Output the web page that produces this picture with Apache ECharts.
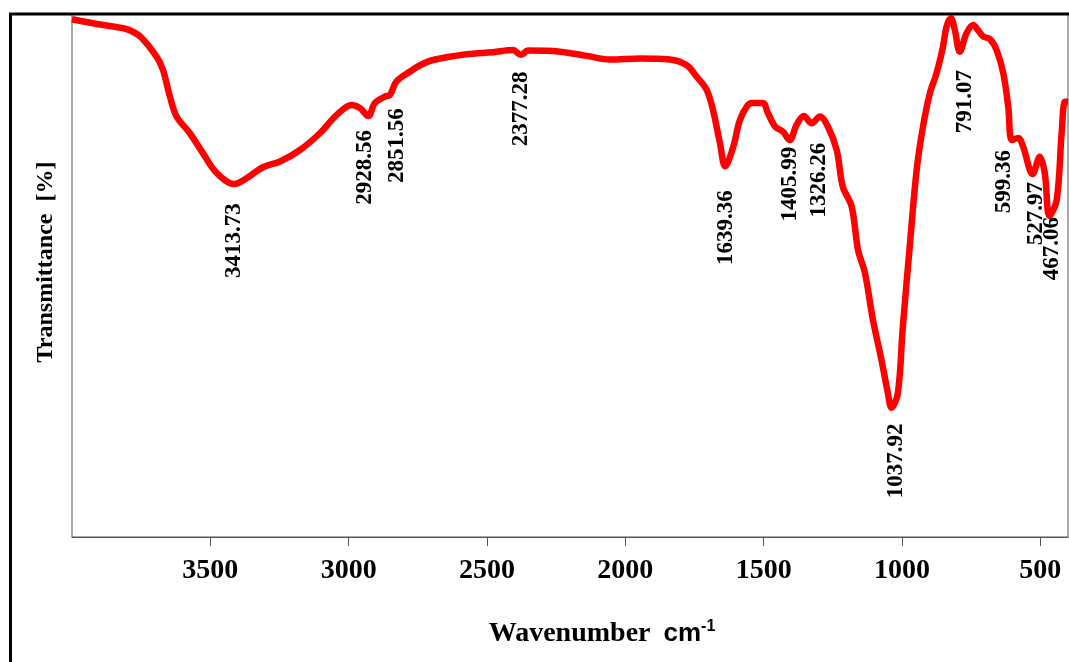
<!DOCTYPE html>
<html>
<head>
<meta charset="utf-8">
<script src="https://cdn.jsdelivr.net/npm/echarts@6/dist/echarts.min.js"></script>
<style>
html,body{margin:0;padding:0;background:#fff;}
#chart{width:1069px;height:662px;}
</style>
</head>
<body>
<div id="chart"></div>
<script>
// Spectrum trace: wavenumber (cm-1) and transmittance (%)
const wavenumbers = [4000, 3911, 3852, 3802, 3754, 3694, 3671, 3646, 3622, 3574, 3527, 3477, 3414, 3369, 3310, 3248, 3176, 3104, 3043, 2989, 2959, 2929, 2905, 2869, 2851, 2827, 2778, 2742, 2695, 2574, 2479, 2406, 2377, 2352, 2236, 2140, 2056, 1947, 1839, 1778, 1742, 1706, 1683, 1658, 1639, 1611, 1586, 1557, 1539, 1503, 1485, 1459, 1430, 1406, 1381, 1355, 1326, 1297, 1268, 1236, 1214, 1182, 1159, 1134, 1105, 1074, 1051, 1038, 1015, 997, 971, 947, 924, 899, 875, 852, 839, 823, 809, 791, 767, 743, 725, 707, 682, 658, 634, 616, 603, 580, 562, 528, 502, 484, 467, 441, 423, 411, 400];
const transmittance = [99.0, 98.1, 97.6, 97.1, 95.7, 91.8, 89.3, 84.2, 80.4, 77.2, 73.4, 69.6, 67.5, 68.6, 70.7, 71.8, 74.0, 77.2, 80.7, 82.6, 82.0, 80.5, 83.0, 84.2, 84.5, 87.1, 89.0, 90.2, 91.2, 92.3, 92.7, 93.1, 92.2, 93.0, 92.8, 92.0, 91.3, 91.5, 91.3, 90.2, 88.0, 85.5, 81.6, 75.3, 70.9, 74.4, 79.7, 82.6, 83.0, 83.0, 81.1, 78.5, 77.5, 75.9, 78.8, 80.5, 79.1, 80.4, 78.5, 74.0, 67.0, 63.2, 54.9, 50.5, 41.5, 33.8, 27.5, 24.7, 27.5, 40.2, 56.2, 70.2, 78.5, 84.9, 88.7, 93.7, 97.6, 99.2, 96.9, 92.8, 96.3, 97.9, 96.9, 95.7, 95.2, 93.1, 88.7, 82.3, 75.9, 76.3, 74.6, 69.4, 72.7, 69.6, 61.4, 64.4, 77.2, 83.2, 83.2];

// Peak annotations: text, label position (wavenumber) and label top (transmittance)
const peakTexts = ['3413.73', '2928.56', '2851.56', '2377.28', '1639.36', '1405.99', '1326.26', '1037.92', '791.07', '599.36', '527.97', '467.06'];
const peakLabelX = [3413, 2939, 2826, 2378, 1637, 1405, 1300, 1022, 773, 632, 514, 457];
const peakLabelTop = [63.8, 77.8, 82.0, 89.0, 66.3, 74.6, 75.4, 21.7, 89.3, 74.0, 67.9, 61.2];

// Axis ticks
const xTicks = [3500, 3000, 2500, 2000, 1500, 1000, 500];

const lineData = wavenumbers.map((w, i) => [w, transmittance[i]]);
const labelData = peakTexts.map((t, i) => ({ value: [peakLabelX[i], peakLabelTop[i]], name: t }));

const chart = echarts.init(document.getElementById('chart'), null, { renderer: 'canvas' });
const serif = '"Liberation Serif", "Times New Roman", serif';
const sans = '"Liberation Sans", Arial, sans-serif';

chart.setOption({
  backgroundColor: '#ffffff',
  animation: false,
  grid: { left: 72, right: 1, top: 14, bottom: 125, show: true, borderColor: '#555', borderWidth: 1, backgroundColor: 'transparent' },
  xAxis: {
    type: 'value', inverse: true, min: 400, max: 4000,
    axisLine: { show: true, lineStyle: { color: '#555', width: 1 } },
    axisTick: { show: true, customValues: xTicks, length: 9, lineStyle: { color: '#555', width: 1 } },
    axisLabel: { customValues: xTicks, formatter: v => String(v), margin: 20, color: '#000', fontFamily: serif, fontWeight: 'bold', fontSize: 28 },
    splitLine: { show: false }
  },
  yAxis: {
    type: 'value', min: 0, max: 100,
    axisLine: { show: false }, axisTick: { show: false }, axisLabel: { show: false }, splitLine: { show: false }
  },
  series: [
    {
      type: 'line', data: lineData, smooth: 0.35, showSymbol: false, symbol: 'none',
      lineStyle: { color: '#ff0000', width: 6.5 }, z: 3
    },
    {
      type: 'scatter', data: labelData, symbolSize: 0, z: 4,
      itemStyle: { opacity: 1 },
      label: {
        show: true, position: 'inside', rotate: 90, align: 'right', verticalAlign: 'middle', opacity: 1,
        formatter: p => p.name, color: '#000', textBorderWidth: 0, fontFamily: serif, fontWeight: 'bold', fontSize: 23
      }
    }
  ],
  graphic: [
    { type: 'polyline', shape: { points: [[10.5, 662], [10.5, 14], [1069, 14]] }, style: { stroke: '#000', lineWidth: 3, fill: null }, z: 10 },
    {
      type: 'text', x: 46, y: 262, rotation: Math.PI / 2,
      style: { text: 'Transmittance  [%]', fill: '#000', font: 'bold 24px ' + serif, align: 'center', verticalAlign: 'middle' }
    },
    {
      type: 'text', x: 602, y: 634,
      style: {
        text: '{t|Wavenumber}{u|cm}{s|-1}', align: 'center', verticalAlign: 'middle',
        rich: {
          t: { fontFamily: serif, fontWeight: 'bold', fontSize: 28, fill: '#000', lineHeight: 30 },
          u: { fontFamily: sans, fontWeight: 'bold', fontSize: 26, fill: '#000', lineHeight: 30, padding: [0, 0, 0, 13] },
          s: { fontFamily: sans, fontWeight: 'bold', fontSize: 16, fill: '#000', lineHeight: 30, verticalAlign: 'top' }
        }
      }
    }
  ]
});
</script>
</body>
</html>
